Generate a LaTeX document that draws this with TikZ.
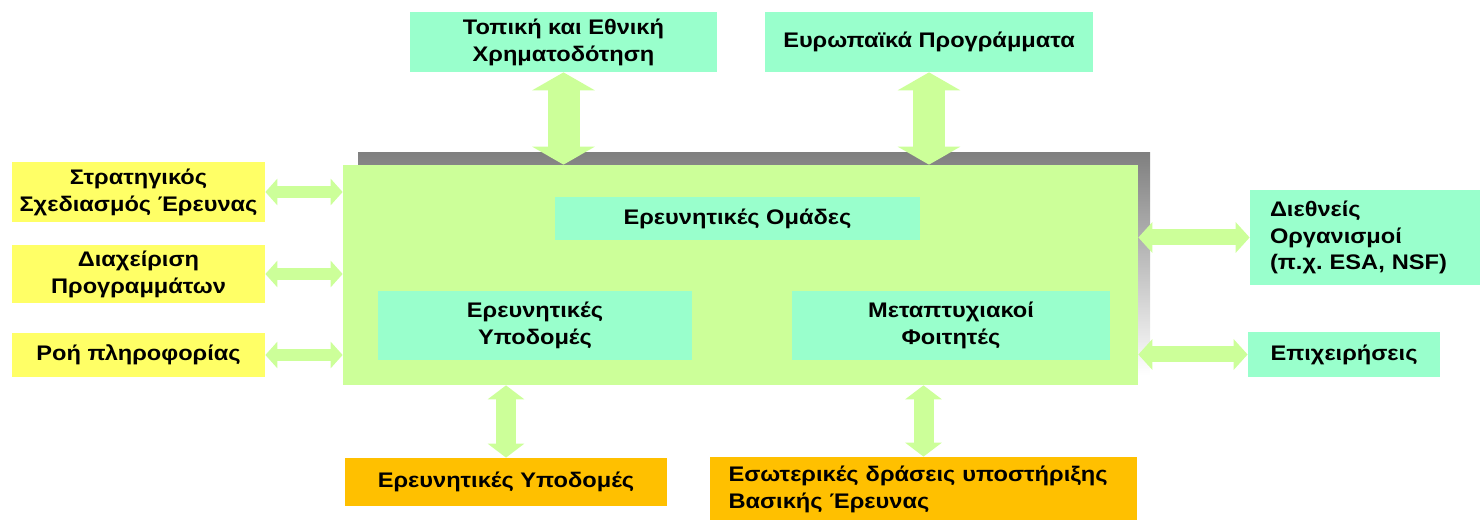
\documentclass[tikz,border=0pt]{standalone}
\usepackage{fontspec}
\setmainfont{Liberation Sans}[FakeStretch=1.12]
\usetikzlibrary{arrows.meta}
\definecolor{boxY}{HTML}{FFFF66}
\definecolor{boxM}{HTML}{99FFCC}
\definecolor{boxG}{HTML}{CCFF99}
\definecolor{boxO}{HTML}{FFC000}
\definecolor{shade}{HTML}{808080}
\frenchspacing
\begin{document}
\begin{tikzpicture}[x=0.02cm,y=-0.02cm,font=\fontsize{12}{15.3}\selectfont\bfseries,
  box/.style={shape=rectangle,inner sep=0pt,align=center},
  boxYel/.style={box,fill=boxY},boxMint/.style={box,fill=boxM},boxOr/.style={box,fill=boxO},
  link/.style args={#1/#2/#3}{draw=boxG,line width=#1*\px,{Triangle[width=#2*\px,length=#3*\px]}-{Triangle[width=#2*\px,length=#3*\px]}}]
\def\px{0.02cm}
\useasboundingbox (0,0) rectangle (1482,520);

\fill[shade] (358,153) rectangle (1150,375);
\node[box,fill=boxG,minimum width=795*\px,minimum height=220*\px] (main) at (740.5,275) {};

\node[boxMint,minimum width=307*\px,minimum height=60*\px] (local) at (563.5,42) {Τοπική και Εθνική\\Χρηματοδότηση};
\node[boxMint,minimum width=328*\px,minimum height=60*\px] (europe) at (929,42) {Ευρωπαϊκά Προγράμματα};

\node[boxYel,minimum width=253*\px,minimum height=60*\px] (plan) at (138.5,192) {Στρατηγικός\\Σχεδιασμός Έρευνας};
\node[boxYel,minimum width=253*\px,minimum height=58*\px] (manage) at (138.5,274) {Διαχείριση\\Προγραμμάτων};
\node[boxYel,minimum width=253*\px,minimum height=44*\px] (flow) at (138.5,355) {Ροή πληροφορίας};

\node[boxMint,minimum width=365*\px,minimum height=43*\px] (groups) at (737.5,218.5) {Ερευνητικές Ομάδες};
\node[boxMint,minimum width=314*\px,minimum height=69*\px] (infraIn) at (535,325.5) {Ερευνητικές\\Υποδομές};
\node[boxMint,minimum width=318*\px,minimum height=69*\px] (students) at (951,325.5) {Μεταπτυχιακοί\\Φοιτητές};

\node[boxMint,minimum width=230*\px,minimum height=95*\px,align=left,text width=190*\px] (intl) at (1365,237.5) {Διεθνείς\\Οργανισμοί\\(π.χ. ESA, NSF)};
\node[boxMint,minimum width=192*\px,minimum height=45*\px] (firms) at (1344,354.5) {Επιχειρήσεις};

\node[boxOr,minimum width=322*\px,minimum height=48*\px] (infraOut) at (506,482) {Ερευνητικές Υποδομές};
\node[boxOr,minimum width=427*\px,minimum height=64*\px,align=left,text width=390*\px] (basic) at (923.5,489) {Εσωτερικές δράσεις υποστήριξης\\Βασικής Έρευνας};

\draw[link=12/26/12] (plan.east) -- (plan.east -| main.west);
\draw[link=12/26/12] (manage.east) -- (manage.east -| main.west);
\draw[link=12/26/12] (flow.east) -- (flow.east -| main.west);
\draw[link=32/62/18] (local.south) -- (local.south |- main.north);
\draw[link=32/62/18] (europe.south) -- (europe.south |- main.north);
\draw[link=16/30/14] (intl.west -| main.east) -- (intl.west);
\draw[link=16/30/14] (firms.west -| main.east) -- (firms.west);
\draw[link=20/36/14] (infraOut.north |- main.south) -- (infraOut.north);
\draw[link=20/36/14] (basic.north |- main.south) -- (basic.north);
\end{tikzpicture}
\end{document}
